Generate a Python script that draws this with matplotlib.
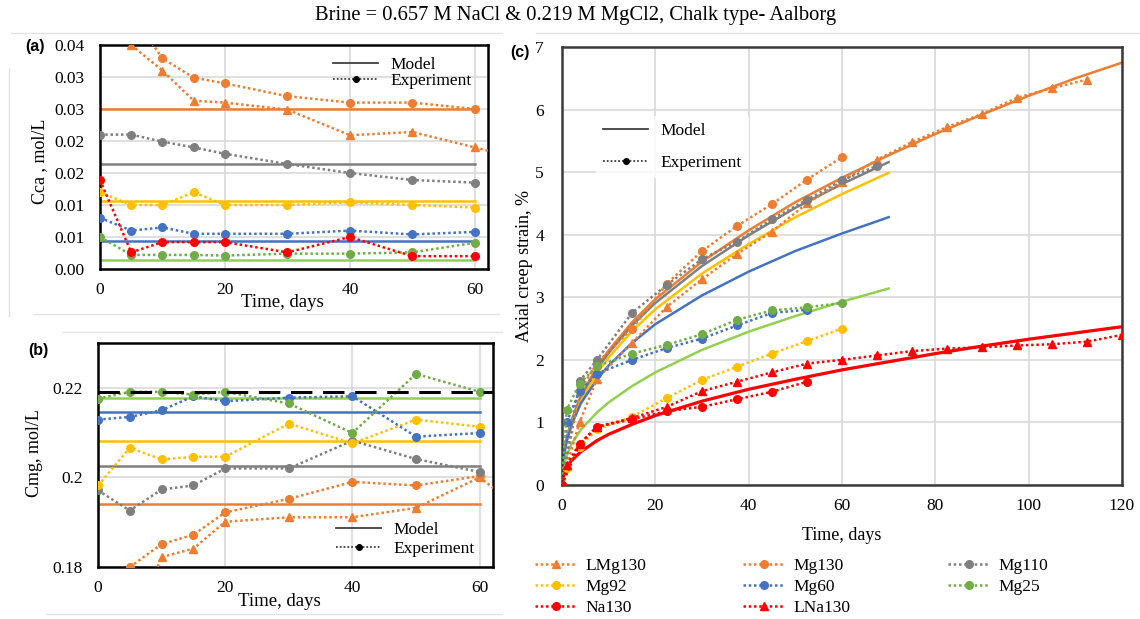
import matplotlib.pyplot as plt
from matplotlib.lines import Line2D

plt.rcParams["font.family"] = ["Liberation Serif", "DejaVu Serif"]

# ── Series colours (Excel palette) ────────────────────────────────────────────
ORANGE = "#ED7D31"
GRAY = "#7F7F7F"
YELLOW = "#FFC000"
BLUE = "#4472C4"
GREEN = "#70AD47"
GREEN_MODEL = "#92D050"
RED = "#FF0000"
GRID = "#D9D9D9"

TITLE = "Brine = 0.657 M NaCl & 0.219 M MgCl2, Chalk type- Aalborg"
MGCL2_BRINE = 0.219

# ── (a) Ca concentration in effluent, mol/L ──────────────────────────────────
T_EFF = [0, 5, 10, 15, 20, 30, 40, 50, 60]
T_LMG130_A = [5, 10, 15, 20, 30, 40, 50, 60, 70]
CA_LMG130 = [0.0350, 0.0310, 0.0263, 0.0260, 0.0249, 0.0209, 0.0214, 0.0190, 0.0165]
T_MG130_A = [5, 10, 15, 20, 30, 40, 50, 60]
CA_MG130 = [0.0400, 0.0329, 0.0299, 0.0290, 0.0270, 0.0260, 0.0260, 0.0250]
CA_MG110 = [0.0210, 0.0210, 0.0199, 0.0190, 0.0180, 0.0164, 0.0150, 0.0139, 0.0135]
CA_MG92 = [0.0120, 0.0100, 0.0100, 0.0120, 0.0100, 0.0100, 0.0104, 0.0100, 0.0096]
CA_MG60 = [0.0080, 0.0060, 0.0065, 0.0055, 0.0055, 0.0055, 0.0060, 0.0054, 0.0058]
CA_NA130 = [0.0139, 0.0026, 0.0042, 0.0042, 0.0042, 0.0026, 0.0050, 0.0020, 0.0020]
CA_MG25 = [0.0050, 0.0022, 0.0022, 0.0022, 0.0021, 0.0024, 0.0024, 0.0026, 0.0041]

T_MODEL_AB = [0, 60]
CA_MODEL = {"Mg130": 0.0250, "Mg110": 0.01644, "Mg92": 0.0106, "Mg60": 0.0044, "Mg25": 0.00135}
CA_YTICK_LABELS = ["0.00", "0.01", "0.01", "0.02", "0.02", "0.03", "0.03", "0.04"]

# ── (b) Mg concentration in effluent, mol/L ──────────────────────────────────
T_LMG130_B = [5, 10, 15, 20, 30, 40, 50, 60, 70]
MG_LMG130 = [0.1650, 0.1822, 0.1841, 0.1901, 0.1911, 0.1911, 0.1932, 0.2000, 0.1890]
MG_MG130 = [0.1800, 0.1851, 0.1872, 0.1922, 0.1952, 0.1990, 0.1982, 0.2003]
MG_MG110 = [0.1971, 0.1926, 0.1973, 0.1982, 0.2020, 0.2020, 0.2082, 0.2041, 0.2012]
MG_MG92 = [0.1982, 0.2066, 0.2040, 0.2046, 0.2046, 0.2120, 0.2076, 0.2129, 0.2113]
MG_MG60 = [0.2129, 0.2135, 0.2150, 0.2181, 0.2170, 0.2178, 0.2181, 0.2091, 0.2099]
MG_MG25 = [0.2176, 0.2191, 0.2191, 0.2185, 0.2191, 0.2165, 0.2099, 0.2231, 0.2191]
MG_MODEL = {"Mg130": 0.1941, "Mg110": 0.2025, "Mg92": 0.2081, "Mg60": 0.2146, "Mg25": 0.2178}

# ── (c) Axial creep strain, % ────────────────────────────────────────────────
T_LONG = [0, 1, 3.75, 7.5, 15, 22.5, 30, 37.5, 45, 52.5, 60, 67.5, 75, 82.5, 90,
          97.5, 105, 112.5]
EPS_LMG130 = [0, 0.30, 1.00, 1.70, 2.27, 2.85, 3.29, 3.69, 4.05, 4.50, 4.85, 5.20,
              5.48, 5.72, 5.93, 6.19, 6.34, 6.48]
T_MG130 = [0, 3.75, 7.5, 15, 22.5, 30, 37.5, 45, 52.5, 60]
EPS_MG130 = [0, 1.50, 1.95, 2.50, 3.22, 3.74, 4.14, 4.49, 4.88, 5.24]
T_MG110 = [0, 3.75, 7.5, 15, 22.5, 30, 37.5, 45, 52.5, 60, 67.5]
EPS_MG110 = [0, 1.66, 2.00, 2.75, 3.20, 3.61, 3.89, 4.25, 4.56, 4.87, 5.10]
T_MG92 = [0, 1, 3.75, 7.5, 15, 22.5, 30, 37.5, 45, 52.5, 60]
EPS_MG92 = [0, 0.27, 0.60, 0.89, 1.09, 1.39, 1.68, 1.89, 2.10, 2.30, 2.50]
T_MG60 = [0, 1, 3.75, 7.5, 15, 22.5, 30, 37.5, 45, 52.5]
EPS_MG60 = [0, 1.00, 1.50, 1.78, 2.00, 2.19, 2.34, 2.55, 2.75, 2.80]
T_MG25 = [0, 1, 3.75, 7.5, 15, 22.5, 30, 37.5, 45, 52.5, 60]
EPS_MG25 = [0, 1.20, 1.62, 1.90, 2.10, 2.24, 2.41, 2.64, 2.79, 2.84, 2.91]
T_NA130 = [0, 3.75, 7.5, 15, 22.5, 30, 37.5, 45, 52.5]
EPS_NA130 = [0, 0.65, 0.93, 1.05, 1.18, 1.25, 1.37, 1.49, 1.65]
T_LNA130 = [0, 1, 3.75, 7.5, 15, 22.5, 30, 37.5, 45, 52.5, 60, 67.5, 75, 82.5, 90,
            97.5, 105, 112.5, 120]
EPS_LNA130 = [0, 0.32, 0.66, 0.93, 1.07, 1.25, 1.50, 1.65, 1.80, 1.94, 2.00, 2.07,
              2.14, 2.18, 2.20, 2.23, 2.25, 2.29, 2.40]

# model curves
T_MOD_LONG = [0, 0.5, 1, 2, 4, 7.5, 10, 15, 20, 30, 40, 50, 60, 70, 80, 90, 100, 110, 120]
T_MOD_SHORT = [0, 0.5, 1, 2, 4, 7.5, 10, 15, 20, 30, 40, 50, 60, 70]
MOD_MG130 = [0, 0.55, 0.75, 1.03, 1.42, 1.89, 2.15, 2.60, 2.97, 3.57, 4.07, 4.52, 4.91,
             5.27, 5.61, 5.92, 6.22, 6.50, 6.75]
MOD_MG110 = [0, 0.53, 0.73, 1.01, 1.39, 1.85, 2.11, 2.55, 2.91, 3.50, 3.99, 4.43, 4.81, 5.16]
MOD_MG92 = [0, 0.52, 0.71, 0.98, 1.34, 1.79, 2.04, 2.46, 2.81, 3.38, 3.85, 4.28, 4.65, 4.99]
MOD_MG60 = [0, 0.50, 0.70, 0.95, 1.30, 1.69, 1.91, 2.27, 2.57, 3.03, 3.41, 3.74, 4.02, 4.28]
MOD_MG25 = [0, 0.35, 0.47, 0.65, 0.88, 1.16, 1.32, 1.58, 1.80, 2.16, 2.45, 2.70, 2.93, 3.14]
MOD_NA130 = [0, 0.20, 0.28, 0.39, 0.53, 0.71, 0.81, 0.97, 1.11, 1.34, 1.53, 1.69, 1.84,
             1.97, 2.10, 2.22, 2.33, 2.43, 2.53]

DOT = (0, (1, 1.1))
FS_TICK = 12.5


def exp_line(ax, t, y, color, marker, ms=5.5, label=None):
    return ax.plot(t, y, linestyle=DOT, lw=1.8, color=color, marker=marker, ms=ms,
                   label=label, zorder=3)[0]


def style_box(ax, spine_color="black"):
    for s in ax.spines.values():
        s.set_linewidth(1.8)
        s.set_color(spine_color)
    ax.grid(True, color=GRID, lw=1.2, zorder=0)
    ax.set_axisbelow(True)
    ax.tick_params(length=0, labelsize=FS_TICK)


def model_legend(ax, **kw):
    handles = [Line2D([], [], color="#404040", lw=1.3),
               Line2D([], [], color="#404040", lw=1.3, linestyle=DOT,
                      marker="o", ms=4, mfc="black", mec="black")]
    return ax.legend(handles, ["Model", "Experiment"], frameon=False, fontsize=12.5,
                     handlelength=2.6, handletextpad=0.7, borderaxespad=0.2, **kw)


fig = plt.figure(figsize=(11.4, 6.19), dpi=100)
fig.text(0.505, 0.975, TITLE, ha="center", va="center", fontsize=14.8)

# faint frames left over from the composed panels
for xs, ys in [([0.01, 0.44], [0.947, 0.947]), ([0.008, 0.008], [0.49, 0.89]),
               ([0.03, 0.438], [0.493, 0.493]), ([0.055, 0.44], [0.463, 0.463]),
               ([0.04, 0.44], [0.008, 0.008]), ([0.47, 1.0], [0.947, 0.947])]:
    fig.add_artist(Line2D(xs, ys, color="#E3E3E3", lw=1.0, transform=fig.transFigure))

# ── panel (a) ────────────────────────────────────────────────────────────────
ax_a = fig.add_axes([100 / 1140, 1 - 269 / 619, 388 / 1140, 224 / 619])
for key, color in [("Mg130", ORANGE), ("Mg110", GRAY), ("Mg92", YELLOW),
                   ("Mg60", BLUE), ("Mg25", GREEN_MODEL)]:
    ax_a.plot(T_MODEL_AB, [CA_MODEL[key]] * 2, color=color, lw=1.8, zorder=2)
exp_line(ax_a, T_LMG130_A, CA_LMG130, ORANGE, "^")
exp_line(ax_a, T_MG130_A, CA_MG130, ORANGE, "o")
exp_line(ax_a, T_EFF, CA_MG110, GRAY, "o")
exp_line(ax_a, T_EFF, CA_MG92, YELLOW, "o")
exp_line(ax_a, T_EFF, CA_MG60, BLUE, "o")
exp_line(ax_a, T_EFF, CA_MG25, GREEN, "o")
exp_line(ax_a, T_EFF, CA_NA130, RED, "o")
ax_a.set_xlim(0, 62.1)
ax_a.set_ylim(0, 0.035)
ax_a.set_xticks([0, 20, 40, 60])
ax_a.set_yticks([i * 0.005 for i in range(8)])
ax_a.set_yticklabels(CA_YTICK_LABELS)
style_box(ax_a)
ax_a.tick_params(axis="y", pad=11)
ax_a.tick_params(axis="x", pad=9)
ax_a.set_xlabel("Time, days", fontsize=13.5)
ax_a.xaxis.set_label_coords(0.47, -0.15)
ax_a.xaxis.label.set_va("center")
ax_a.set_ylabel("Cca , mol/L", fontsize=13)
ax_a.yaxis.set_label_coords(-0.135, 0.48)
model_legend(ax_a, loc="upper right", labelspacing=0.0, bbox_to_anchor=(0.985, 0.995))
fig.text(25 / 1140, 1 - 47 / 619, "(a)", fontsize=11.5, fontweight="bold",
         family="Liberation Sans", ha="left", va="center")

# ── panel (b) ────────────────────────────────────────────────────────────────
ax_b = fig.add_axes([98 / 1140, 1 - 567 / 619, 395 / 1140, 224 / 619])
for key, color in [("Mg130", ORANGE), ("Mg110", GRAY), ("Mg92", YELLOW),
                   ("Mg60", BLUE), ("Mg25", GREEN_MODEL)]:
    ax_b.plot(T_MODEL_AB, [MG_MODEL[key]] * 2, color=color, lw=1.8, zorder=2)
ax_b.axhline(MGCL2_BRINE, color="black", lw=2.2, dashes=(7, 3.5), zorder=4)
exp_line(ax_b, T_LMG130_B, MG_LMG130, ORANGE, "^")
exp_line(ax_b, T_MG130_A, MG_MG130, ORANGE, "o")
exp_line(ax_b, T_EFF, MG_MG110, GRAY, "o")
exp_line(ax_b, T_EFF, MG_MG92, YELLOW, "o")
exp_line(ax_b, T_EFF, MG_MG60, BLUE, "o")
exp_line(ax_b, T_EFF, MG_MG25, GREEN, "o")
ax_b.set_xlim(0, 62.1)
ax_b.set_ylim(0.18, 0.23)
ax_b.set_xticks([0, 20, 40, 60])
ax_b.set_yticks([0.18, 0.20, 0.22])
ax_b.set_yticklabels(["0.18", "0.2", "0.22"])
style_box(ax_b)
ax_b.tick_params(axis="y", pad=11)
ax_b.tick_params(axis="x", pad=9)
ax_b.set_xlabel("Time, days", fontsize=13.5)
ax_b.xaxis.set_label_coords(0.46, -0.155)
ax_b.xaxis.label.set_va("center")
ax_b.set_ylabel("Cmg, mol/L", fontsize=13)
ax_b.yaxis.set_label_coords(-0.14, 0.51)
model_legend(ax_b, loc="lower right", labelspacing=0.15, bbox_to_anchor=(0.98, 0.0))
fig.text(28 / 1140, 1 - 350 / 619, "(b)", fontsize=11.5, fontweight="bold",
         family="Liberation Sans", ha="left", va="center")

# ── panel (c) ────────────────────────────────────────────────────────────────
ax_c = fig.add_axes([562 / 1140, 1 - 485 / 619, 560 / 1140, 438 / 619])
ax_c.plot(T_MOD_LONG, MOD_MG130, color=ORANGE, lw=1.8, zorder=2)
ax_c.plot(T_MOD_SHORT, MOD_MG110, color=GRAY, lw=1.8, zorder=2)
ax_c.plot(T_MOD_SHORT, MOD_MG92, color=YELLOW, lw=1.8, zorder=2)
ax_c.plot(T_MOD_SHORT, MOD_MG60, color=BLUE, lw=1.8, zorder=2)
ax_c.plot(T_MOD_SHORT, MOD_MG25, color=GREEN_MODEL, lw=1.8, zorder=2)
ax_c.plot(T_MOD_LONG, MOD_NA130, color=RED, lw=2.3, zorder=2)

h_lmg130 = exp_line(ax_c, T_LONG, EPS_LMG130, ORANGE, "^", 5.5, "LMg130")
h_mg130 = exp_line(ax_c, T_MG130, EPS_MG130, ORANGE, "o", 5.5, "Mg130")
h_mg110 = exp_line(ax_c, T_MG110, EPS_MG110, GRAY, "o", 5.5, "Mg110")
h_mg92 = exp_line(ax_c, T_MG92, EPS_MG92, YELLOW, "o", 5.5, "Mg92")
h_mg60 = exp_line(ax_c, T_MG60, EPS_MG60, BLUE, "o", 5.5, "Mg60")
h_mg25 = exp_line(ax_c, T_MG25, EPS_MG25, GREEN, "o", 5.5, "Mg25")
h_na130 = exp_line(ax_c, T_NA130, EPS_NA130, RED, "o", 5.5, "Na130")
h_lna130 = exp_line(ax_c, T_LNA130, EPS_LNA130, RED, "^", 5.5, "LNa130")

ax_c.set_xlim(0, 120)
ax_c.set_ylim(0, 7)
ax_c.set_xticks(range(0, 121, 20))
ax_c.set_yticks(range(0, 8))
style_box(ax_c, "#3A3A3A")
ax_c.tick_params(labelsize=12.5)
ax_c.tick_params(axis="y", pad=13)
ax_c.tick_params(axis="x", pad=9)
ax_c.set_xlabel("Time, days", fontsize=13)
ax_c.xaxis.set_label_coords(0.5, -0.115)
ax_c.xaxis.label.set_va("center")
ax_c.set_ylabel("Axial creep strain, %", fontsize=13)
ax_c.yaxis.set_label_coords(-0.052, 0.5)

leg_c = model_legend(ax_c, loc="upper left", labelspacing=0.9,
                     bbox_to_anchor=(0.055, 0.85))
leg_c.set_frame_on(True)
leg_c.get_frame().set_facecolor("white")
leg_c.get_frame().set_edgecolor("none")
fig.text(510 / 1140, 1 - 52 / 619, "(c)", fontsize=11.5, fontweight="bold",
         family="Liberation Sans", ha="left", va="center")

# series legend under panel (c), filled column by column
order = [h_lmg130, h_mg92, h_na130, h_mg130, h_mg60, h_lna130, h_mg110, h_mg25]
fig.legend(order, [h.get_label() for h in order], ncol=3, loc="upper left",
           bbox_to_anchor=(528 / 1140, 1 - 551 / 619), frameon=False, fontsize=12.5,
           handlelength=2.4, handletextpad=0.5, columnspacing=5.6, labelspacing=0.28,
           borderaxespad=0.0)

fig.savefig("out.png", dpi=100, facecolor="white")
